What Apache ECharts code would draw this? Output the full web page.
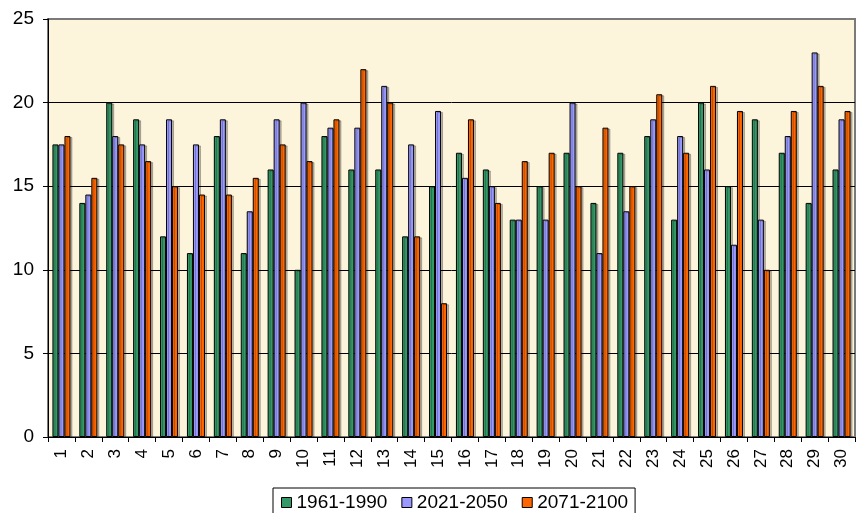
<!DOCTYPE html>
<html>
<head>
<meta charset="utf-8">
<style>
  html, body { margin: 0; padding: 0; background: #ffffff; }
  #chart { width: 856px; height: 513px; }
</style>
<script src="https://cdn.jsdelivr.net/npm/echarts@6/dist/echarts.min.js"></script>
</head>
<body>
<div id="chart"></div>
<script>
// Day numbers 1..30 along the category axis
const days = ['1','2','3','4','5','6','7','8','9','10','11','12','13','14','15',
              '16','17','18','19','20','21','22','23','24','25','26','27','28','29','30'];

// Values per period
const period1961 = [17.5, 14, 20, 19, 12, 11, 18, 11, 16, 10, 18, 16, 16, 12, 15,
                    17, 16, 13, 15, 17, 14, 17, 18, 13, 20, 15, 19, 17, 14, 16];
const period2021 = [17.5, 14.5, 18, 17.5, 19, 17.5, 19, 13.5, 19, 20, 18.5, 18.5, 21, 17.5, 19.5,
                    15.5, 15, 13, 13, 20, 11, 13.5, 19, 18, 16, 11.5, 13, 18, 23, 19];
const period2071 = [18, 15.5, 17.5, 16.5, 15, 14.5, 14.5, 15.5, 17.5, 16.5, 19, 22, 20, 12, 8,
                    19, 14, 16.5, 17, 15, 18.5, 15, 20.5, 17, 21, 19.5, 10, 19.5, 21, 19.5];

const seriesNames = ['1961-1990', '2021-2050', '2071-2100'];
const seriesColors = ['#339966', '#9999ff', '#ff6600'];
const yTicks = [0, 5, 10, 15, 20, 25];

const font = '"Liberation Sans", Arial, sans-serif';

const chart = echarts.init(document.getElementById('chart'), null, { renderer: 'canvas' });

function barSeries(name, data, color) {
  return {
    name: name,
    type: 'bar',
    data: data,
    barGap: '0%',
    barCategoryGap: '33%',
    itemStyle: {
      color: color,
      borderColor: '#000000',
      borderWidth: 1,
      shadowColor: 'rgba(0,0,0,0.25)',
      shadowOffsetX: 2,
      shadowOffsetY: 1,
      shadowBlur: 0
    },
    emphasis: { disabled: true }
  };
}

chart.setOption({
  animation: false,
  backgroundColor: '#ffffff',
  grid: {
    left: 48,
    right: 1,
    top: 19,
    bottom: 76,
    show: true,
    backgroundColor: '#fdf4dc',
    borderColor: '#7a7a7a',
    borderWidth: 2
  },
  legend: {
    data: seriesNames,
    top: 488,
    left: 273,
    padding: [5, 7, 12, 8],
    borderColor: '#000000',
    borderWidth: 1,
    itemWidth: 10,
    itemHeight: 10,
    itemGap: 14,
    icon: 'rect',
    itemStyle: { borderColor: '#000000', borderWidth: 1 },
    textStyle: { fontFamily: font, fontSize: 19, color: '#000000' }
  },
  xAxis: {
    type: 'category',
    data: days,
    axisLine: { show: true, lineStyle: { color: '#000000', width: 1 } },
    axisTick: { show: true, length: 5, alignWithLabel: false, lineStyle: { color: '#000000' } },
    axisLabel: {
      rotate: 90,
      margin: 12,
      fontFamily: font,
      fontSize: 17,
      color: '#000000',
      interval: 0
    },
    splitLine: { show: false }
  },
  yAxis: {
    type: 'value',
    min: yTicks[0],
    max: yTicks[yTicks.length - 1],
    interval: 5,
    axisLine: { show: true, lineStyle: { color: '#000000', width: 1 } },
    axisTick: { show: true, length: 5, lineStyle: { color: '#000000' } },
    axisLabel: {
      margin: 14,
      fontFamily: font,
      fontSize: 19,
      color: '#000000'
    },
    splitLine: {
      show: true,
      lineStyle: { color: ['#000000', '#000000', '#000000', '#000000', '#000000', '#7a7a7a'], width: 1 }
    }
  },
  series: [
    barSeries(seriesNames[0], period1961, seriesColors[0]),
    barSeries(seriesNames[1], period2021, seriesColors[1]),
    barSeries(seriesNames[2], period2071, seriesColors[2])
  ]
});
</script>
</body>
</html>
